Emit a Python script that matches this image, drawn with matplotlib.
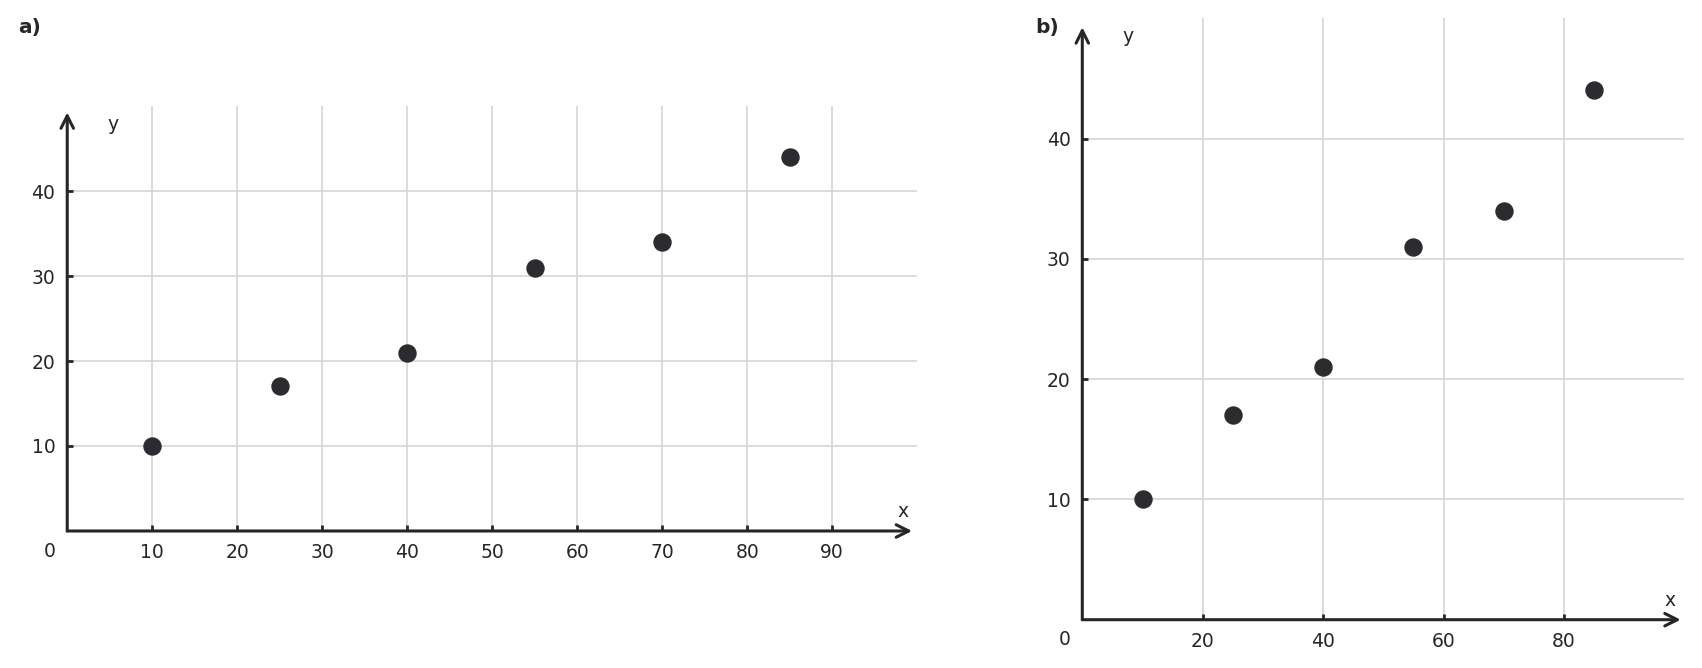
import matplotlib.pyplot as plt

# data
xs = [10, 25, 40, 55, 70, 85]
ys = [10, 17, 21, 31, 34, 44]

xticks_a = [10, 20, 30, 40, 50, 60, 70, 80, 90]
xticks_b = [20, 40, 60, 80]
yticks = [10, 20, 30, 40]

DARK = '#262626'
GRID = '#d6d6d6'
DOT = '#2b2b30'

plt.rcParams['font.family'] = 'DejaVu Sans'
plt.rcParams['font.size'] = 13.5

fig = plt.figure(figsize=(17.02, 6.68), dpi=100)


def panel(rect, xticks, label, label_pos):
    ax = fig.add_axes(rect)
    ax.set_xlim(0, 100)
    ax.set_ylim(0, 50)
    for s in ax.spines.values():
        s.set_visible(False)
    ax.set_xticks(xticks)
    ax.set_yticks(yticks)
    ax.grid(True, color=GRID, lw=1.2)
    ax.set_axisbelow(True)
    ax.tick_params(direction='in', length=4, width=2, color=DARK,
                   labelcolor=DARK, labelsize=13.5, pad=8.5)

    ax.scatter(xs, ys, s=150, color=DOT, zorder=5, clip_on=False)

    # axes with arrows
    arr = dict(arrowstyle='->,head_length=0.6,head_width=0.3', lw=2.2,
               color=DARK, mutation_scale=15, shrinkA=0, shrinkB=0)
    ax.annotate('', xy=(0.994, 0), xytext=(0, 0), xycoords='axes fraction',
                arrowprops=arr, annotation_clip=False)
    ax.annotate('', xy=(0, 0.985), xytext=(0, 0), xycoords='axes fraction',
                arrowprops=arr, annotation_clip=False)

    ax.annotate('0', xy=(0, 0), xycoords='axes fraction', xytext=(-12.5, -14.5),
                textcoords='offset points', ha='center', va='center', color=DARK)
    ax.annotate('x', xy=(1, 0), xycoords='axes fraction', xytext=(-10, 14),
                textcoords='offset points', ha='center', va='center', color=DARK)
    ax.annotate('y', xy=(0, 1), xycoords='axes fraction', xytext=(33, -13.5),
                textcoords='offset points', ha='center', va='center', color=DARK)

    fig.text(label_pos[0], label_pos[1], label, fontweight='bold',
             ha='center', va='center', color=DARK, fontsize=14.5)
    return ax


panel([0.0395, 0.2051, 0.4994, 0.6362], xticks_a, 'a)', (30 / 1702, 1 - 27 / 668))
panel([0.6359, 0.0723, 0.3537, 0.9004], xticks_b, 'b)', (1047 / 1702, 1 - 28 / 668))

fig.savefig('out.png', dpi=100)
